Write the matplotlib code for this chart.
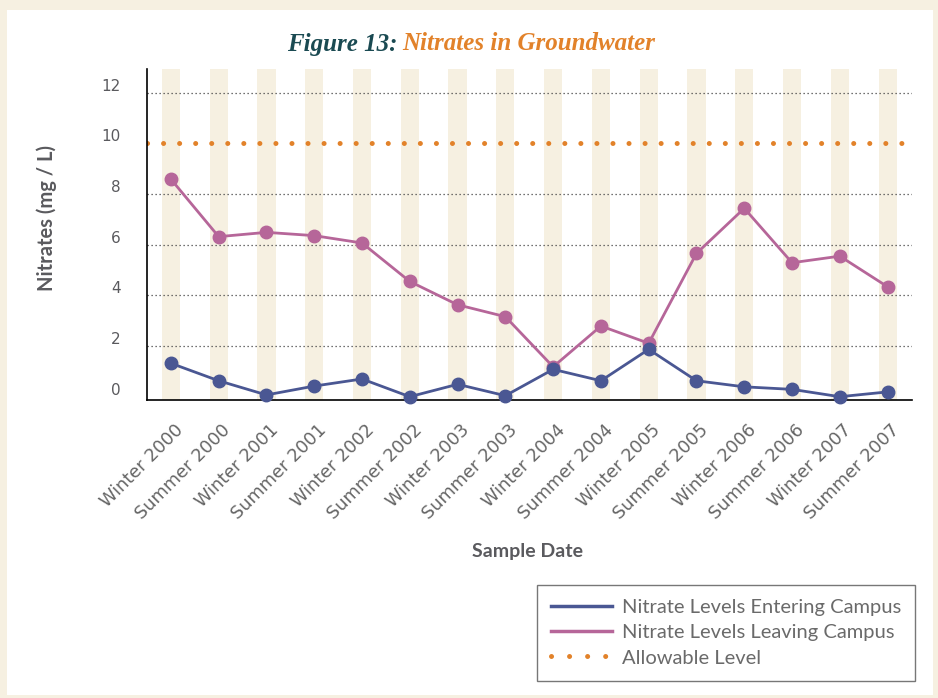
import matplotlib
matplotlib.use("Agg")
import matplotlib.pyplot as plt
import matplotlib.transforms as mtransforms
from matplotlib.patches import Rectangle
from matplotlib.lines import Line2D

categories = ["Winter 2000", "Summer 2000", "Winter 2001", "Summer 2001",
              "Winter 2002", "Summer 2002", "Winter 2003", "Summer 2003",
              "Winter 2004", "Summer 2004", "Winter 2005", "Summer 2005",
              "Winter 2006", "Summer 2006", "Winter 2007", "Summer 2007"]
entering = [1.32, 0.63, 0.07, 0.42, 0.70, 0.0, 0.49, 0.04,
            1.08, 0.63, 1.87, 0.63, 0.39, 0.29, 0.0, 0.19]
leaving = [8.59, 6.32, 6.49, 6.36, 6.07, 4.55, 3.63, 3.16,
           1.18, 2.79, 2.11, 5.66, 7.44, 5.29, 5.55, 4.34]
allowable = 10
yticks = [0, 2, 4, 6, 8, 10, 12]
gridlines = [2, 4, 6, 8, 12]

BLUE = "#4a5793"
PINK = "#b66699"
ORANGE = "#e2822a"
CREAM = "#f6f0e1"
GREY = "#5a5a5e"
TEAL = "#1a4a52"

W, H = 938, 698
fig = plt.figure(figsize=(W / 100, H / 100), dpi=100)
fig.patch.set_facecolor(CREAM)
fig.patches.append(Rectangle((7 / W, 3 / H), (933 - 7) / W, (695 - 10) / H,
                             transform=fig.transFigure, facecolor="white",
                             edgecolor="none", zorder=-10))

ax = fig.add_axes([147 / W, (H - 400) / H, (911.5 - 147) / W, (400 - 69) / H])
ax.set_facecolor("none")
x = list(range(len(categories)))

for xi in x:
    ax.axvspan(xi - 0.19, xi + 0.19, color=CREAM, zorder=0, lw=0)
for g in gridlines:
    ax.axhline(g, color="#444444", lw=0.9, ls=(0, (1, 2.2)), zorder=1)
ax.axhline(allowable, color=ORANGE, lw=3.6, ls=(0, (0.01, 3.2)),
           dash_capstyle="round", zorder=2)

ax.plot(x, leaving, color=PINK, lw=2.0, marker="o", ms=9, zorder=4,
        clip_on=False)
ax.plot(x, entering, color=BLUE, lw=2.0, marker="o", ms=9, zorder=5,
        clip_on=False)

ax.set_xlim(-0.5, 15.5)
ax.set_ylim(-0.13, 12.94)
for s in ["top", "right"]:
    ax.spines[s].set_visible(False)
ax.spines["left"].set_linewidth(1.2)
ax.spines["bottom"].set_linewidth(1.2)

ax.set_yticks(yticks)
ax.set_yticklabels([str(v) for v in yticks], fontsize=11, color=GREY,
                   family="DejaVu Sans")
ax.tick_params(axis="y", length=0, pad=19)
off = mtransforms.ScaledTranslation(0, 8 / 100, fig.dpi_scale_trans)
for lab in ax.get_yticklabels():
    lab.set_transform(lab.get_transform() + off)

ax.set_xticks(x)
ax.set_xticklabels(categories, rotation=45, ha="right", rotation_mode="anchor",
                   fontsize=12.8, color="#666666", family="DejaVu Sans")
ax.tick_params(axis="x", length=0, pad=15)
xoff = mtransforms.ScaledTranslation(3 / 100, 0, fig.dpi_scale_trans)
for lab in ax.get_xticklabels():
    lab.set_transform(lab.get_transform() + xoff)

fig.text(47 / W, 1 - 218 / H, "Nitrates (mg / L)", rotation=90, ha="center",
         va="center", fontsize=14.5, fontweight="bold", color=GREY,
         family="Lato")
fig.text(528 / W, 1 - 551 / H, "Sample Date", ha="center", va="center",
         fontsize=14, fontweight="bold", color=GREY, family="Lato")

fig.text(398 / W, 1 - 44 / H, "Figure 13:", ha="right", va="center",
         fontsize=18, style="italic", fontweight="bold", color=TEAL,
         family="Liberation Serif")
fig.text(402 / W, 1 - 44 / H, "Nitrates in Groundwater", ha="left",
         va="center", fontsize=18, style="italic", fontweight="bold",
         color=ORANGE, family="Liberation Serif")

handles = [Line2D([], [], color=BLUE, lw=2.5),
           Line2D([], [], color=PINK, lw=2.5),
           Line2D([], [], color=ORANGE, lw=3.6, ls=(0, (0.01, 3.6)),
                  dash_capstyle="round")]
labels = ["Nitrate Levels Entering Campus", "Nitrate Levels Leaving Campus",
          "Allowable Level"]
leg = fig.legend(handles, labels, loc="upper left",
                 bbox_to_anchor=(537 / W, 1 - 585 / H), frameon=True,
                 fancybox=False, edgecolor="#555555", handlelength=3.0,
                 prop={"family": "Lato", "size": 14.5}, labelspacing=0.4,
                 borderpad=0.7, handletextpad=0.5, borderaxespad=0)
leg.get_frame().set_linewidth(1.0)
for t in leg.get_texts():
    t.set_color("#6a6a6a")

fig.savefig("out.png", dpi=100, facecolor=fig.get_facecolor())
